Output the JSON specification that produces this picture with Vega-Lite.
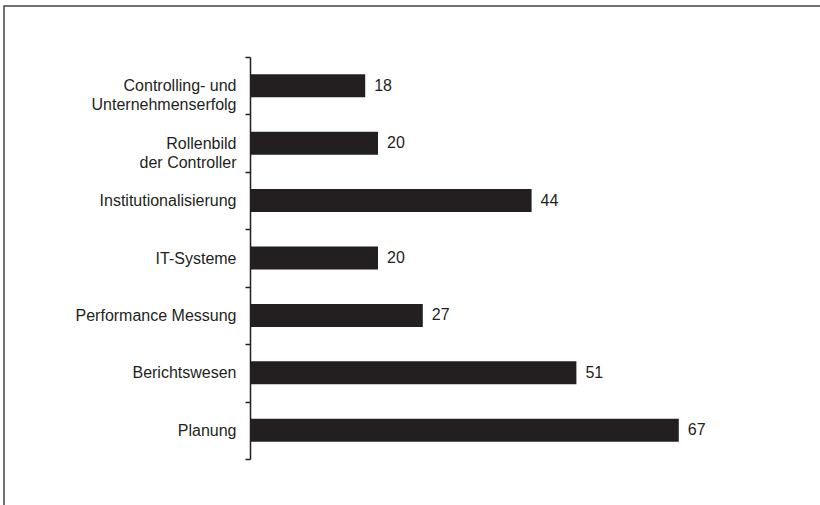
{
  "$schema": "https://vega.github.io/schema/vega-lite/v6.json",
  "autosize": {"type": "none"},
  "width": 820,
  "height": 504,
  "padding": {"left": 4, "top": 6, "right": 0, "bottom": 0},
  "background": "white",
  "config": {
    "view": {"stroke": "#444", "strokeWidth": 1.5},
    "font": "Liberation Sans"
  },
  "data": {
    "values": [
      {"bereich": "Controlling- und|Unternehmenserfolg", "wert": 18},
      {"bereich": "Rollenbild|der Controller", "wert": 20},
      {"bereich": "Institutionalisierung", "wert": 44},
      {"bereich": "IT-Systeme", "wert": 20},
      {"bereich": "Performance Messung", "wert": 27},
      {"bereich": "Berichtswesen", "wert": 51},
      {"bereich": "Planung", "wert": 67}
    ]
  },
  "encoding": {
    "y": {
      "field": "bereich",
      "type": "nominal",
      "sort": null,
      "scale": {"range": [51, 453], "paddingInner": 0, "paddingOuter": 0},
      "axis": {
        "title": null,
        "offset": -246,
        "tickBand": "extent",
        "domainColor": "#231f20",
        "domainWidth": 1.5,
        "tickColor": "#231f20",
        "tickWidth": 1.5,
        "tickSize": 5,
        "labelPadding": 9,
        "labelFontSize": 16,
        "labelColor": "#231f20",
        "labelLineHeight": 19,
        "labelExpr": "datum.value ? split(datum.value, '|') : ''",
        "grid": false
      }
    },
    "x": {
      "field": "wert",
      "type": "quantitative",
      "scale": {"domain": [-38.44, 89.69], "nice": false, "zero": false},
      "axis": null
    }
  },
  "layer": [
    {"mark": {"type": "bar", "color": "#231f20", "height": {"band": 0.4}}},
    {
      "mark": {"type": "text", "align": "left", "baseline": "middle", "dx": 9, "fontSize": 16, "color": "#231f20"},
      "encoding": {"text": {"field": "wert", "type": "quantitative"}}
    }
  ]
}
